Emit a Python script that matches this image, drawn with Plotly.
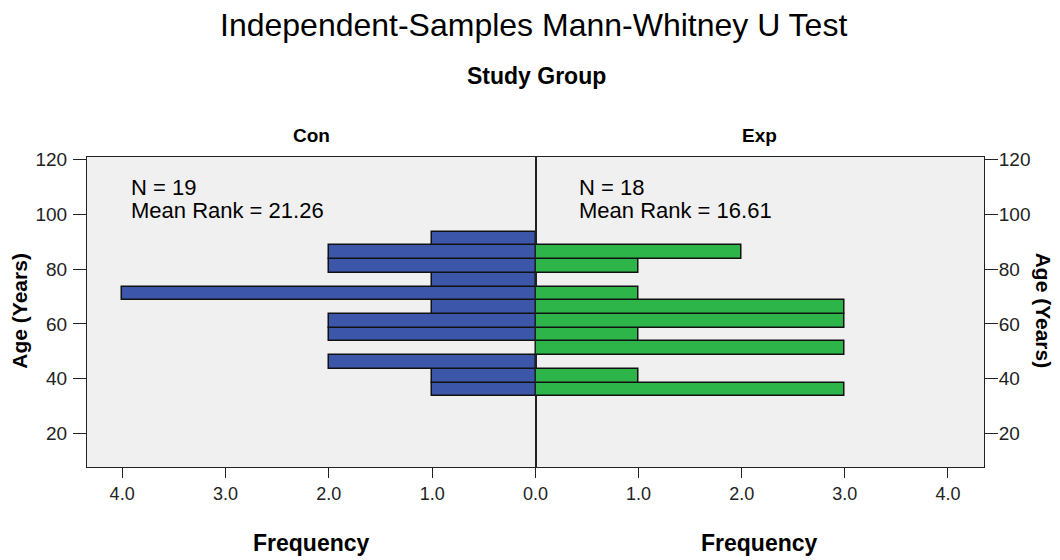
import plotly.graph_objects as go

# histogram bins (age, years) - centres of 5-year bins
age_bins = [36.1, 41.1, 46.1, 51.1, 56.1, 61.1, 66.1, 71.1, 76.1, 81.1, 86.1, 91.1]
con_freq = [1, 1, 2, 0, 2, 2, 1, 4, 1, 2, 2, 1]
exp_freq = [3, 1, 0, 3, 1, 3, 3, 1, 0, 1, 2, 0]

y_ticks = [20, 40, 60, 80, 100, 120]
con_x_ticks = [0, 1, 2, 3, 4]
exp_x_ticks = [1, 2, 3, 4]

con_label = ["N = 19", "Mean Rank = 21.26"]
exp_label = ["N = 18", "Mean Rank = 16.61"]

FONT = "Liberation Sans"
BLUE = "#3c57a9"
GREEN = "#2db54a"

# page body has an 8px margin, so the figure is drawn 8px in from the corner
OFF = 8

fig = go.Figure()
fig.add_trace(go.Bar(
    y=age_bins, x=con_freq, orientation="h", width=5,
    marker=dict(color=BLUE, line=dict(color="#111", width=1.5)),
    xaxis="x", yaxis="y", showlegend=False,
))
fig.add_trace(go.Bar(
    y=age_bins, x=exp_freq, orientation="h", width=5,
    marker=dict(color=GREEN, line=dict(color="#111", width=1.5)),
    xaxis="x2", yaxis="y2", showlegend=False,
))

xcommon = dict(
    showgrid=False, zeroline=False, showline=True, linecolor="#222", linewidth=1,
    mirror=True, ticks="outside", ticklen=10, tickcolor="#222",
    tickformat=".1f", tickfont=dict(family=FONT, size=18, color="#222"),
)
ycommon = dict(
    range=[7.85, 120.85], showgrid=False, zeroline=False, showline=True,
    linecolor="#222", linewidth=1, mirror=True, ticks="outside", ticklen=13,
    tickcolor="#222", tickvals=y_ticks,
    tickfont=dict(family=FONT, size=19, color="#222"),
)

fig.update_layout(
    width=1060 - OFF, height=560 - OFF,
    margin=dict(l=87 - OFF, r=76, t=157 - OFF, b=93),
    paper_bgcolor="white", plot_bgcolor="#f0f0f0",
    bargap=0,
    xaxis=dict(domain=[0, 0.5], range=[4.34, 0], tickvals=con_x_ticks,
               anchor="y", **xcommon),
    xaxis2=dict(domain=[0.5, 1], range=[0, 4.35], tickvals=exp_x_ticks,
                anchor="y2", **xcommon),
    yaxis=dict(anchor="x", side="left", ticklabelstandoff=2, **ycommon),
    yaxis2=dict(anchor="x2", side="right", ticklabelstandoff=-3, **ycommon),
)

def ann(text, x, y, size, bold=False, xanchor="center", angle=0, yanchor="middle"):
    fig.add_annotation(
        text=f"<b>{text}</b>" if bold else text,
        xref="paper", yref="paper", x=x, y=y, showarrow=False,
        xanchor=xanchor, yanchor=yanchor, textangle=angle,
        font=dict(family=FONT, size=size, color="#000"),
    )

def px_x(px):
    return (px - 87) / 897

def px_y(py):
    return (466.7 - py) / 310.7

ann("Independent-Samples Mann-Whitney U Test", px_x(533), px_y(24), 32)
ann("Study Group", px_x(536), px_y(75), 23, bold=True)
ann("Con", px_x(311), px_y(134), 19, bold=True)
ann("Exp", px_x(759), px_y(134), 19, bold=True)
ann("Frequency", px_x(311), px_y(543), 23, bold=True)
ann("Frequency", px_x(759), px_y(543), 23, bold=True)
ann("Age (Years)", px_x(20), px_y(310), 21, bold=True, angle=-90)
ann("Age (Years)", px_x(1043), px_y(310), 21, bold=True, angle=90)

for i, line in enumerate(con_label):
    ann(line, px_x(129), px_y(187 + 23 * i), 22, xanchor="left")
for i, line in enumerate(exp_label):
    ann(line, px_x(577), px_y(187 + 23 * i), 22, xanchor="left")

fig.write_html("out.html")
